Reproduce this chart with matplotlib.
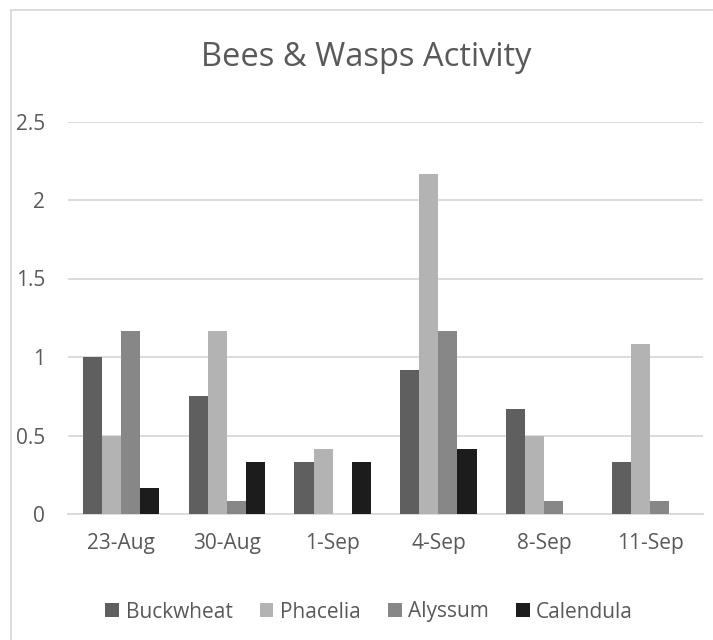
import numpy as np
import matplotlib.pyplot as plt
from matplotlib.patches import Rectangle

# Data
dates = ["23-Aug", "30-Aug", "1-Sep", "4-Sep", "8-Sep", "11-Sep"]
buckwheat = [1.0, 0.75, 0.333, 0.9167, 0.6667, 0.333]
phacelia = [0.5, 1.1667, 0.4167, 2.1667, 0.5, 1.0833]
alyssum = [1.1667, 0.0833, 0.0, 1.1667, 0.0833, 0.0833]
calendula = [0.1667, 0.333, 0.333, 0.4167, 0.0, 0.0]

series = [
    ("Buckwheat", buckwheat, "#5f5f5f"),
    ("Phacelia", phacelia, "#b3b3b3"),
    ("Alyssum", alyssum, "#878787"),
    ("Calendula", calendula, "#1c1c1c"),
]

plt.rcParams['font.family'] = ['Open Sans', 'DejaVu Sans']
text_color = "#595959"

W, H = 713, 640
fig = plt.figure(figsize=(W / 100, H / 100), dpi=100)
# chart frame (only left and top edges fall inside the picture)
fig.patches.append(Rectangle((11 / W, -0.01), 1.0, 1 - 10 / H + 0.01,
                             transform=fig.transFigure, fill=False,
                             edgecolor="#d9d9d9", lw=1.3))

ax = fig.add_axes([68 / W, (H - 514) / H, 635 / W, 392.5 / H])

x = np.arange(len(dates))
width = 0.18
for i, (name, vals, color) in enumerate(series):
    ax.bar(x + (i - 1.5) * width, vals, width, color=color, label=name, zorder=3)

ax.set_ylim(0, 2.5)
ax.set_xlim(-0.5, len(dates) - 0.5)
ax.set_yticks([0, 0.5, 1, 1.5, 2, 2.5])
ax.set_yticklabels(["0", "0.5", "1", "1.5", "2", "2.5"])
ax.set_xticks(x)
ax.set_xticklabels(dates)
ax.grid(axis='y', color="#d9d9d9", lw=1.3, zorder=0)
for s in ["top", "right", "left"]:
    ax.spines[s].set_visible(False)
ax.spines["bottom"].set_color("#d9d9d9")
ax.spines["bottom"].set_linewidth(1.3)
ax.tick_params(length=0, labelsize=15, colors=text_color)
ax.tick_params(axis='x', pad=14)
ax.tick_params(axis='y', pad=16.5)

fig.text(366 / W, 1 - 58 / H, "Bees & Wasps Activity", ha='center', va='center',
         fontsize=23.5, color=text_color)

fig.legend(loc='center', bbox_to_anchor=(369 / W, 1 - 612 / H), ncol=4, frameon=False,
           fontsize=15, labelcolor=text_color, handlelength=0.67, handleheight=0.67,
           handletextpad=0.3, columnspacing=1.3, borderaxespad=0, borderpad=0)

fig.savefig("out.png", dpi=100)
